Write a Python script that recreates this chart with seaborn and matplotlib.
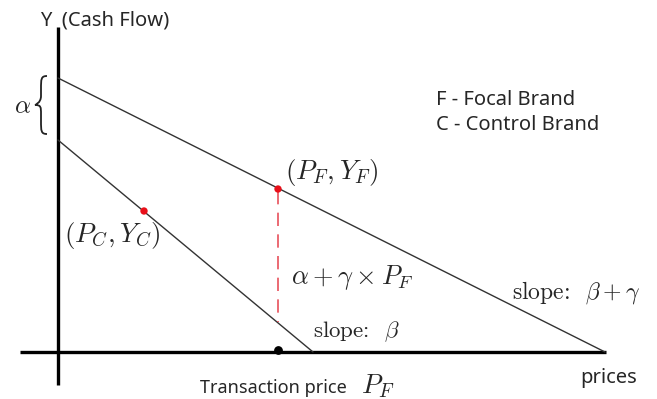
"""
Cash flow vs price diagram: focal brand vs control brand
"""
import numpy as np
import pandas as pd
import matplotlib
matplotlib.use("Agg")
import matplotlib.pyplot as plt
from matplotlib.path import Path
from matplotlib.patches import PathPatch
import seaborn as sns

# data (arbitrary units, origin at the axes crossing)
line_names = ["focal", "control"]
intercepts = [27.4, 21.2]          # cash flow at price 0
zero_prices = [54.7, 25.5]         # price where cash flow reaches 0
point_labels = [r"$(P_F, Y_F)$", r"$(P_C, Y_C)$"]
point_x = [22.0, 8.6]
point_y = [16.3, 14.1]
gap_bottom = 3.0                   # lower end of the dashed alpha+gamma*P_F segment

sns.set_theme(style="white")
plt.rcParams["mathtext.fontset"] = "cm"
plt.rcParams["font.family"] = ["Noto Sans", "DejaVu Sans"]

fig = plt.figure(figsize=(6.57, 3.99), dpi=100)
ax = fig.add_axes([0, 0, 1, 1])
ax.set_xlim(-5.8, 59.9)
ax.set_ylim(-4.7, 35.2)
ax.axis("off")

# axes drawn by hand
ax.plot([0, 0], [-3.3, 32.5], color="black", lw=2.4, solid_capstyle="butt")
ax.plot([-3.8, 54.8], [0, 0], color="black", lw=2.4, solid_capstyle="butt")

# the two straight lines
rows = []
for name, b0, p0 in zip(line_names, intercepts, zero_prices):
    rows.append({"line": name, "price": 0.0, "cash": b0})
    rows.append({"line": name, "price": p0, "cash": 0.0})
lines = pd.DataFrame(rows)
sns.lineplot(data=lines, x="price", y="cash", units="line", estimator=None,
             color="#333333", lw=1.0, ax=ax, legend=False)

# red points
pts = pd.DataFrame({"x": point_x, "y": point_y})
sns.scatterplot(data=pts, x="x", y="y", color="#e8101a", s=28,
                edgecolor="none", ax=ax, zorder=5)

# dashed vertical at P_F
ax.plot([point_x[0], point_x[0]], [point_y[0] - 0.2, gap_bottom],
        color="#e8505b", lw=1.2, dashes=(8, 5))
# transaction price marker on the axis
ax.scatter([point_x[0]], [0.2], color="black", s=28, zorder=6)

# alpha brace
top, bot = intercepts[0] + 0.2, intercepts[1] + 0.6
mid = (top + bot) / 2
xb = -1.1
w = 1.2
s = xb - w * 0.5
verts = [(xb, top), (s, top), (s, top - 0.3), (s, top - 1.3),
         (s, mid + 0.9),
         (s, mid + 0.2), (xb - w, mid), (xb - w, mid),
         (s, mid), (s, mid - 0.2), (s, mid - 0.9),
         (s, bot + 1.3),
         (s, bot + 0.3), (s, bot), (xb, bot)]
codes = [Path.MOVETO, Path.CURVE4, Path.CURVE4, Path.CURVE4,
         Path.LINETO,
         Path.CURVE4, Path.CURVE4, Path.CURVE4,
         Path.CURVE4, Path.CURVE4, Path.CURVE4,
         Path.LINETO,
         Path.CURVE4, Path.CURVE4, Path.CURVE4]
ax.add_patch(PathPatch(Path(verts, codes), fill=False, lw=1.3, edgecolor="#222222"))
ax.text(-3.5, mid - 0.2, r"$\alpha$", fontsize=18, ha="center", va="center")

# labels
ax.text(-1.8, 33.2, "Y  (Cash Flow)", fontsize=14.5, ha="left", va="center")
ax.text(37.8, 25.2, "F - Focal Brand", fontsize=14.5, ha="left", va="center")
ax.text(37.8, 22.7, "C - Control Brand", fontsize=14.5, ha="left", va="center")
ax.text(22.7, 18.0, point_labels[0], fontsize=19.5, ha="left", va="center")
ax.text(0.6, 11.7, point_labels[1], fontsize=19.5, ha="left", va="center")
ax.text(23.3, 7.5, r"$\alpha + \gamma \times P_F$", fontsize=19, ha="left", va="center")
ax.text(25.5, 2.0, r"slope:  $\beta$", fontsize=16.5, family="cmr10", ha="left", va="center")
ax.text(45.4, 6.0, r"slope:  $\beta + \gamma$", fontsize=17, family="cmr10", ha="left", va="center")
ax.text(14.2, -3.6, "Transaction price", fontsize=13, ha="left", va="center")
ax.text(30.3, -3.4, r"$P_F$", fontsize=19.5, ha="left", va="center")
ax.text(52.2, -2.6, "prices", fontsize=14.5, ha="left", va="center")

fig.savefig("out.png", dpi=100)
